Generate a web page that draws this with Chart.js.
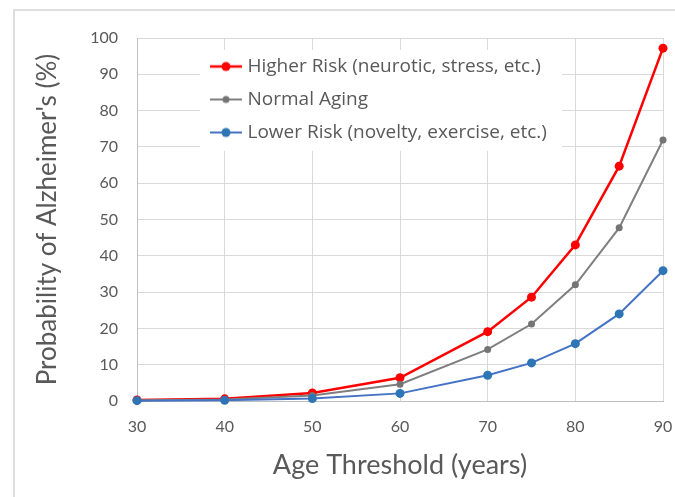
<!DOCTYPE html>
<html>
<head>
<meta charset="utf-8">
<script src="https://cdn.jsdelivr.net/npm/chart.js@4.4.1/dist/chart.umd.min.js"></script>
<style>
  html, body { margin: 0; padding: 0; background: #fff; overflow: hidden; }
  #wrap { position: relative; width: 675px; height: 497px; }
  #frame { position: absolute; left: 13px; top: 9px; width: 800px; height: 700px; border: 2px solid #dedede; }
  #chart { position: absolute; left: 0; top: 0; }
</style>
</head>
<body>
<div id="wrap">
  <div id="frame"></div>
  <canvas id="chart" width="675" height="497"></canvas>
</div>
<script>
// --- chart data ---
const ages = [30, 40, 50, 60, 70, 75, 80, 85, 90];
const higherRisk = [0.3, 0.6, 2.2, 6.4, 19.1, 28.6, 43.0, 64.7, 97.2];
const normalAging = [0.2, 0.4, 1.5, 4.6, 14.2, 21.2, 32.0, 47.7, 71.9];
const lowerRisk = [0.1, 0.2, 0.7, 2.1, 7.1, 10.5, 15.8, 24.0, 35.9];
const seriesNames = [
    "Higher Risk (neurotic, stress, etc.)",
    "Normal Aging",
    "Lower Risk (novelty, exercise, etc.)"
];
const xTickValues = [30, 40, 50, 60, 70, 80, 90];
const yTickValues = [0, 10, 20, 30, 40, 50, 60, 70, 80, 90, 100];

const TEXT = '#595959';
const GRID = '#d9d9d9';
Chart.defaults.font.family = 'Lato, "Open Sans", sans-serif';
Chart.defaults.color = TEXT;

// small line + dot picture for each legend entry
function legendIcon(lineColor, dotColor, lineWidth, radius) {
    const c = document.createElement('canvas');
    c.width = 32;
    c.height = 12;
    const g = c.getContext('2d');
    g.strokeStyle = lineColor;
    g.lineWidth = lineWidth;
    g.beginPath();
    g.moveTo(0, 6);
    g.lineTo(32, 6);
    g.stroke();
    g.fillStyle = dotColor;
    g.beginPath();
    g.arc(16, 6, radius, 0, Math.PI * 2);
    g.fill();
    return c;
}

const toPoints = values => ages.map((x, i) => ({ x: x, y: values[i] }));

const datasets = [
    {
        label: seriesNames[0],
        data: toPoints(higherRisk),
        borderColor: '#ff0000',
        backgroundColor: '#ff0000',
        borderWidth: 2.5,
        pointRadius: 4.5,
        pointBorderWidth: 0,
        order: 2
    },
    {
        label: seriesNames[1],
        data: toPoints(normalAging),
        borderColor: '#7f7f7f',
        backgroundColor: '#757575',
        borderWidth: 2,
        pointRadius: 3.5,
        pointBorderWidth: 0,
        order: 1
    },
    {
        label: seriesNames[2],
        data: toPoints(lowerRisk),
        borderColor: '#4472c4',
        backgroundColor: '#2e75b6',
        borderWidth: 2,
        pointRadius: 4.5,
        pointBorderWidth: 0,
        order: 0
    }
];

const icons = [
    legendIcon('#ff0000', '#ff0000', 2.5, 4.5),
    legendIcon('#7f7f7f', '#757575', 2, 3.5),
    legendIcon('#4472c4', '#2e75b6', 2, 4.5)
];

// Put the legend box inside the plot, over a white patch
const legendPlacer = {
    id: 'legendPlacer',
    afterLayout(chart) {
        const lg = chart.legend;
        if (!lg) return;
        Object.assign(lg, { left: 200, top: 43, right: 620, bottom: 175, width: 420, height: 132 });
        if (!lg._patched) {
            const orig = lg.draw;
            lg.draw = function () {
                const ctx = this.ctx;
                ctx.save();
                ctx.fillStyle = '#ffffff';
                ctx.fillRect(this.left, this.top + 7, 362, 101);
                ctx.restore();
                orig.apply(this, arguments);
            };
            lg._patched = true;
        }
    }
};

new Chart(document.getElementById('chart'), {
    type: 'line',
    data: { datasets: datasets },
    plugins: [legendPlacer],
    options: {
        responsive: false,
        animation: false,
        devicePixelRatio: 1,
        layout: { padding: { top: 38, right: 12, left: 0, bottom: 0 } },
        elements: { line: { tension: 0 } },
        datasets: { line: { clip: false } },
        plugins: {
            tooltip: { enabled: false },
            legend: {
                position: 'chartArea',
                align: 'start',
                labels: {
                    usePointStyle: true,
                    pointStyleWidth: 24,
                    padding: 14,
                    color: TEXT,
                    font: { family: '"Open Sans", Lato, sans-serif', size: 19 },
                    generateLabels: chart => chart.data.datasets.map((ds, i) => ({
                        text: ds.label,
                        pointStyle: icons[i],
                        datasetIndex: i,
                        hidden: false,
                        fontColor: TEXT,
                        lineWidth: 0,
                        strokeStyle: 'transparent',
                        fillStyle: 'transparent'
                    }))
                }
            }
        },
        scales: {
            x: {
                type: 'linear',
                min: 30,
                max: 90,
                afterBuildTicks: s => { s.ticks = xTickValues.map(v => ({ value: v })); },
                afterFit: s => { s.height = 96; s.paddingLeft = 0; s.paddingRight = 0; },
                grid: { color: GRID, drawTicks: false },
                border: { color: '#bfbfbf' },
                ticks: { padding: 16, font: { size: 16 }, color: TEXT },
                title: {
                    display: true,
                    text: 'Age Threshold (years)',
                    font: { size: 27 },
                    color: TEXT,
                    padding: { top: 0, bottom: 16 }
                }
            },
            y: {
                min: 0,
                max: 100,
                afterBuildTicks: s => { s.ticks = yTickValues.map(v => ({ value: v })); },
                afterFit: s => { s.width = 137; },
                grid: { color: GRID, drawTicks: false },
                border: { color: '#bfbfbf' },
                ticks: { padding: 19, font: { size: 16 }, color: TEXT },
                title: {
                    display: true,
                    text: "Probability of Alzheimer's (%)",
                    font: { size: 26 },
                    color: TEXT,
                    padding: { top: 32, bottom: 0 }
                }
            }
        }
    }
});
</script>
</body>
</html>
